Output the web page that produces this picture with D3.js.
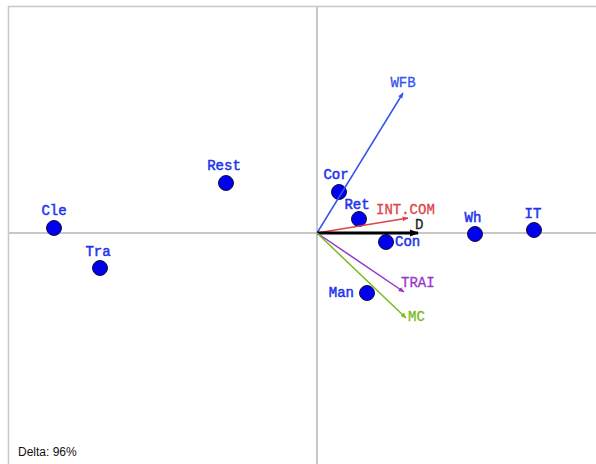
<!DOCTYPE html>
<html><head><meta charset="utf-8">
<script src="https://cdn.jsdelivr.net/npm/d3@7"></script>
<style>body{margin:0;background:#fff}svg{display:block}</style>
</head><body>
<svg id="c" width="596" height="464"></svg>
<script>
// Individuals (observations)
const pointNames = ["Cle","Tra","Rest","Cor","Ret","Con","Man","Wh","IT"];
const pointX = [-2.63,-2.17,-0.91,0.22,0.42,0.69,0.50,1.58,2.17];
const pointY = [0.05,-0.35,0.50,0.41,0.14,-0.09,-0.60,-0.01,0.03];
// Variables (arrows)
const varNames = ["WFB","INT.COM","D","TRAI","MC"];
const varX = [0.86,0.91,1.01,0.87,0.89];
const varY = [1.40,0.15,0.00,-0.59,-0.85];
const deltaLabel = "Delta: 96%";

const W=596,H=464;
const svg=d3.select("#c");
const x=d3.scaleLinear().domain([-3.09,2.79]).range([8,596]);
const y=d3.scaleLinear().domain([2.27,-2.31]).range([6,464]);

const varColor={"WFB":"#3355ee","INT.COM":"#dd4444","D":"#000000","TRAI":"#9933cc","MC":"#77bb22"};
const varWidth={"WFB":1.5,"INT.COM":1.5,"D":3,"TRAI":1.5,"MC":1.5};
// label placement offsets (px) relative to arrow tip
const varLab={"WFB":[0,-6,"middle"],"INT.COM":[-32,-4,"start"],"D":[-3,-4,"start"],"TRAI":[-3,-5,"start"],"MC":[2,3,"start"]};
const ptLab={"Cle":[0,-13,"middle"],"Tra":[-2,-12,"middle"],"Rest":[-2,-13,"middle"],"Cor":[-3,-13,"middle"],"Ret":[-2,-10,"middle"],"Con":[9,4,"start"],"Man":[-13,4,"end"],"Wh":[-2,-12,"middle"],"IT":[-1,-12,"middle"]};

// frame
svg.append("line").attr("x1",8.5).attr("x2",8.5).attr("y1",6).attr("y2",H).attr("stroke","#c8c8c8").attr("stroke-width",1.5);
svg.append("line").attr("x1",8).attr("x2",W).attr("y1",6.5).attr("y2",6.5).attr("stroke","#c8c8c8").attr("stroke-width",1.5);
// axes through origin
svg.append("line").attr("x1",x(0)).attr("x2",x(0)).attr("y1",6).attr("y2",H).attr("stroke","#c8c8c8").attr("stroke-width",2);
svg.append("line").attr("x1",8).attr("x2",W).attr("y1",y(0)).attr("y2",y(0)).attr("stroke","#c8c8c8").attr("stroke-width",2);

const defs=svg.append("defs");
varNames.forEach((n,i)=>{
  defs.append("marker").attr("id","m"+i).attr("viewBox","0 0 10 10").attr("refX",9).attr("refY",5)
    .attr("markerWidth",n==="D"?3:4).attr("markerHeight",n==="D"?3:4).attr("orient","auto")
    .attr("markerUnits","strokeWidth")
    .append("path").attr("d","M0,1 L10,5 L0,9 z").attr("fill",varColor[n]);
});

const font="'Liberation Mono','Courier New',monospace";

// points
const pts=pointNames.map((n,i)=>({n,x:pointX[i],y:pointY[i]}));
svg.selectAll("circle.p").data(pts).join("circle").attr("class","p")
  .attr("cx",d=>x(d.x)).attr("cy",d=>y(d.y)).attr("r",7.5)
  .attr("fill","#0000ee").attr("stroke","#111144").attr("stroke-width",1);

// arrows
const vars=varNames.map((n,i)=>({n,i,x:varX[i],y:varY[i]}));
svg.selectAll("line.v").data(vars).join("line").attr("class","v")
  .attr("x1",x(0)).attr("y1",y(0)).attr("x2",d=>x(d.x)).attr("y2",d=>y(d.y))
  .attr("stroke",d=>varColor[d.n]).attr("stroke-width",d=>varWidth[d.n])
  .attr("marker-end",d=>"url(#m"+d.i+")");

svg.selectAll("text.v").data(vars).join("text").attr("class","v")
  .attr("x",d=>x(d.x)+varLab[d.n][0]).attr("y",d=>y(d.y)+varLab[d.n][1])
  .attr("text-anchor",d=>varLab[d.n][2])
  .attr("font-family",font).attr("font-size",14)
  .attr("fill",d=>varColor[d.n]==="#000000"?"#222":varColor[d.n])
  .attr("stroke",d=>varColor[d.n]==="#000000"?"#222":varColor[d.n]).attr("stroke-width",0.3)
  .text(d=>d.n);

svg.selectAll("text.p").data(pts).join("text").attr("class","p")
  .attr("x",d=>x(d.x)+ptLab[d.n][0]).attr("y",d=>y(d.y)+ptLab[d.n][1])
  .attr("text-anchor",d=>ptLab[d.n][2])
  .attr("font-family",font).attr("font-size",14).attr("fill","#2233ee")
  .attr("stroke","#2233ee").attr("stroke-width",0.5)
  .text(d=>d.n);

svg.append("text").attr("x",18).attr("y",456).attr("font-family","Arial,'Liberation Sans',sans-serif")
  .attr("font-size",12).attr("fill","#111").text(deltaLabel);
</script>
</body></html>
